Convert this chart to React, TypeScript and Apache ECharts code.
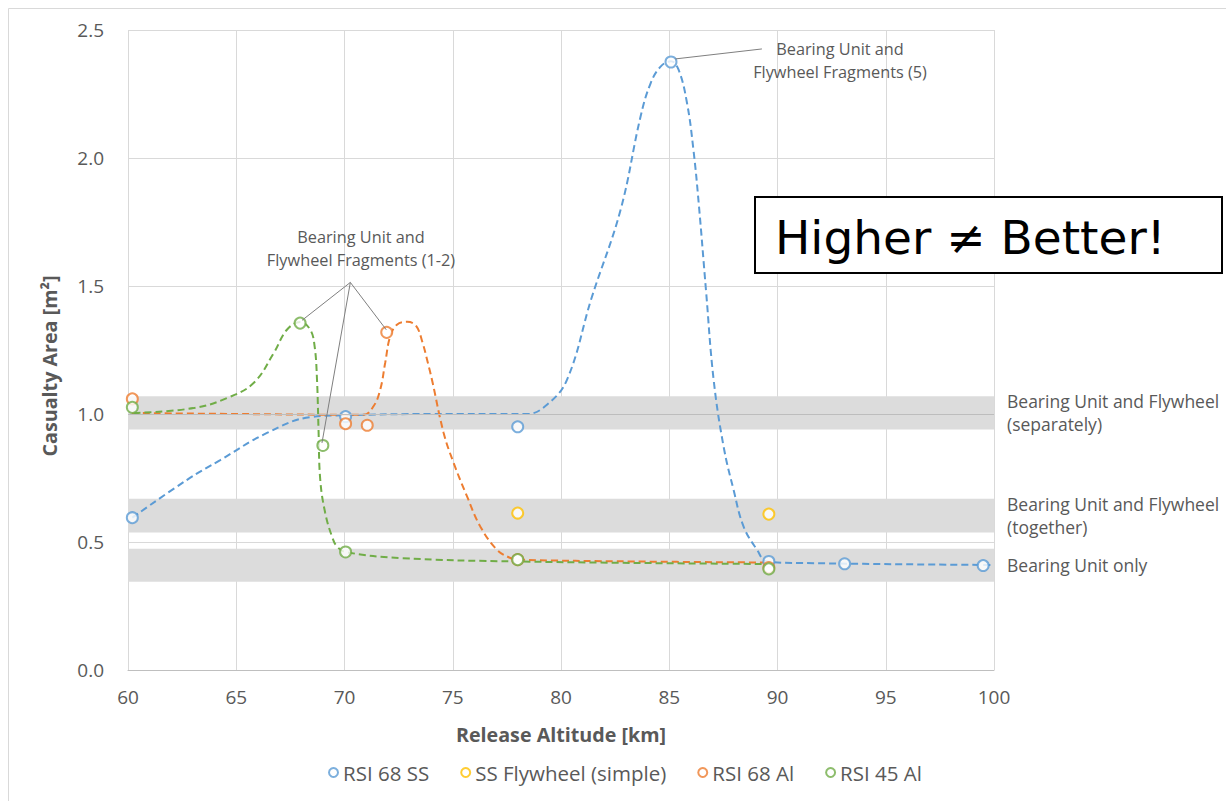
import React, { useEffect, useRef } from "react";
import * as echarts from "echarts";

// ---------- data ----------
const xTicks = [60, 65, 70, 75, 80, 85, 90, 95, 100];
const yTicks = [0, 0.5, 1.0, 1.5, 2.0, 2.5];

const seriesNames = ["RSI 68 SS", "SS Flywheel (simple)", "RSI 68 Al", "RSI 45 Al"];
const seriesColors = ["#5B9BD5", "#FFC000", "#ED7D31", "#70AD47"];

// markers: release altitude [km] / casualty area [m²]
const rsi68ssAlt = [60.2, 70.05, 78.0, 85.08, 89.6, 93.1, 99.5];
const rsi68ssArea = [0.595, 0.99, 0.95, 2.375, 0.424, 0.415, 0.408];
const ssFlyAlt = [78.0, 89.6];
const ssFlyArea = [0.613, 0.609];
const rsi68alAlt = [60.2, 70.05, 71.05, 71.95, 78.0, 89.6];
const rsi68alArea = [1.059, 0.962, 0.956, 1.319, 0.431, 0.4];
const rsi45alAlt = [60.2, 67.95, 69.0, 70.05, 78.0, 89.6];
const rsi45alArea = [1.026, 1.355, 0.877, 0.461, 0.431, 0.395];

// dashed trend curves
const rsi68ssCurve = [
  [60.2, 0.595], [62.73, 0.743], [64.26, 0.82], [66.42, 0.926], [68.42, 0.988],
  [70.05, 0.995], [74.0, 1.0], [78.43, 1.0], [79.35, 1.036], [80.28, 1.134],
  [81.4, 1.45], [82.75, 1.797], [83.67, 2.16], [84.13, 2.29], [84.6, 2.357],
  [85.08, 2.378], [85.43, 2.345], [85.82, 2.215], [86.12, 2.03], [86.36, 1.824],
  [86.7, 1.48], [87.05, 1.134], [87.51, 0.873], [87.97, 0.704], [88.43, 0.561],
  [89.05, 0.47], [89.51, 0.424], [91.05, 0.418], [100.0, 0.41],
];
const rsi68alCurve = [
  [60.18, 1.004], [65.0, 1.0], [70.88, 0.997], [71.34, 1.03], [71.65, 1.095],
  [71.88, 1.2], [72.11, 1.303], [72.42, 1.349], [72.89, 1.36], [73.3, 1.345],
  [73.6, 1.28], [73.85, 1.2], [74.04, 1.134], [74.58, 0.926], [75.04, 0.809],
  [75.66, 0.678], [76.27, 0.561], [77.04, 0.47], [77.66, 0.4375], [78.0, 0.431],
  [83.35, 0.424], [89.51, 0.42],
];
const rsi45alCurve = [
  [60.26, 1.004], [63.03, 1.023], [64.57, 1.062], [65.8, 1.121], [66.73, 1.238],
  [67.34, 1.329], [67.96, 1.359], [68.42, 1.329], [68.62, 1.264], [68.73, 1.134],
  [68.8, 0.939], [68.88, 0.743], [69.11, 0.613], [69.42, 0.522], [69.65, 0.483],
  [70.04, 0.461], [72.58, 0.4375], [77.97, 0.424], [89.51, 0.414],
];

// horizontal reference bands [low, high, label]
const bandLow = [0.939, 0.5375, 0.345];
const bandHigh = [1.069, 0.669, 0.474];
const bandLabels = [
  "Bearing Unit and Flywheel\n(separately)",
  "Bearing Unit and Flywheel\n(together)",
  "Bearing Unit only",
];
const referenceLine = 1.0;

// annotation leader lines [[x1, y1], [x2, y2]]
const leaderLines = [
  [[70.27, 1.514], [68.04, 1.366]],
  [[70.27, 1.514], [71.93, 1.329]],
  [[70.27, 1.514], [68.96, 0.887]],
  [[85.28, 2.387], [89.28, 2.426]],
];
const annotationFragments12 = "Bearing Unit and\nFlywheel Fragments (1-2)";
const annotationFragments5 = "Bearing Unit and\nFlywheel Fragments (5)";
const calloutText = "Higher \u2260 Better!";
const xTitle = "Release Altitude [km]";
const yTitle = "Casualty Area [m\u00B2]";

// ---------- chart ----------
const FONT = "'Open Sans', 'Liberation Sans', sans-serif";
const GRAY = "#595959";

function zip(xs: number[], ys: number[]) {
  return xs.map((x, i) => [x, ys[i]]);
}

export default function App() {
  const ref = useRef<HTMLDivElement>(null);

  useEffect(() => {
    if (!ref.current) return;
    const chart = echarts.init(ref.current, null, { renderer: "svg" });

    const markerSets = [
      zip(rsi68ssAlt, rsi68ssArea),
      zip(ssFlyAlt, ssFlyArea),
      zip(rsi68alAlt, rsi68alArea),
      zip(rsi45alAlt, rsi45alArea),
    ];
    const curves = [
      { data: rsi68ssCurve, color: seriesColors[0] },
      { data: rsi68alCurve, color: seriesColors[2] },
      { data: rsi45alCurve, color: seriesColors[3] },
    ];

    const option: any = {
      animation: false,
      backgroundColor: "#ffffff",
      grid: { left: 128, top: 30, width: 866, height: 640, containLabel: false },
      xAxis: {
        type: "value",
        min: xTicks[0],
        max: xTicks[xTicks.length - 1],
        interval: 5,
        axisLine: { show: true, lineStyle: { color: "#BFBFBF", width: 1 } },
        axisTick: { show: false },
        axisLabel: { color: GRAY, fontSize: 19, fontFamily: FONT, margin: 17 },
        splitLine: { show: true, lineStyle: { color: "#D9D9D9", width: 1 } },
      },
      yAxis: {
        type: "value",
        min: yTicks[0],
        max: yTicks[yTicks.length - 1],
        interval: 0.5,
        axisLine: { show: false },
        axisTick: { show: false },
        axisLabel: {
          color: GRAY,
          fontSize: 19,
          fontFamily: FONT,
          margin: 24,
          formatter: (v: number) => v.toFixed(1),
        },
        splitLine: { show: true, lineStyle: { color: "#D9D9D9", width: 1 } },
      },
      legend: {
        left: 328,
        top: 762,
        padding: 0,
        itemWidth: 9,
        itemHeight: 9,
        itemGap: 31,
        selectedMode: false,
        textStyle: { color: GRAY, fontSize: 20.5, fontFamily: FONT },
        data: seriesNames.map((n, i) => ({
          name: n,
          icon: "circle",
          itemStyle: { color: "#fff", borderColor: seriesColors[i], borderWidth: 2 },
        })),
      },
      series: [
        {
          name: "bands",
          type: "line",
          data: [],
          silent: true,
          z: 1,
          markArea: {
            silent: true,
            itemStyle: { color: "#DCDCDC" },
            label: {
              show: true,
              position: "right",
              distance: 13,
              color: GRAY,
              fontSize: 17.5,
              fontFamily: FONT,
              lineHeight: 23,
              align: "left",
            },
            data: bandLow.map((lo, i) => [
              { yAxis: lo, name: bandLabels[i] },
              { yAxis: bandHigh[i] },
            ]),
          },
          markLine: {
            silent: true,
            symbol: ["none", "none"],
            label: { show: false },
            lineStyle: { color: "#BDBDBD", type: "solid", width: 1 },
            data: [{ yAxis: referenceLine }],
          },
        },
        ...curves.map((c, i) => ({
          name: "fit" + i,
          type: "line",
          data: c.data,
          smooth: 0.4,
          showSymbol: false,
          symbol: "none",
          silent: true,
          z: 2,
          lineStyle: { color: c.color, width: 2, type: [7, 4] },
        })),
        {
          name: "leaders",
          type: "line",
          data: [],
          silent: true,
          z: 3,
          markLine: {
            silent: true,
            symbol: ["none", "none"],
            label: { show: false },
            lineStyle: { color: "#7F7F7F", type: "solid", width: 1 },
            data: leaderLines.map((seg) => [
              { coord: seg[0] },
              { coord: seg[1] },
            ]),
          },
        },
        ...markerSets.map((d, i) => ({
          name: seriesNames[i],
          type: "scatter",
          data: d,
          symbol: "emptyCircle",
          symbolSize: 11,
          z: 4,
          itemStyle: { color: seriesColors[i], borderColor: seriesColors[i], borderWidth: 2.6 },
        })),
      ],
      graphic: [
        {
          type: "rect",
          silent: true,
          shape: { x: 8.5, y: 8.5, width: 1400, height: 1000 },
          style: { fill: "none", stroke: "#D9D9D9", lineWidth: 1 },
          z: -10,
        },
        {
          type: "rect",
          shape: { x: 755, y: 197, width: 467, height: 76 },
          style: { fill: "#ffffff", stroke: "#000000", lineWidth: 2 },
          z: 10,
        },
        {
          type: "text",
          x: 775,
          y: 237,
          z: 11,
          style: {
            text: calloutText,
            fill: "#000000",
            fontSize: 47,
            fontFamily: "'DejaVu Sans', Verdana, sans-serif",
            textAlign: "left",
            textVerticalAlign: "middle",
          },
        },
        {
          type: "text",
          x: 361,
          y: 248,
          z: 11,
          style: {
            text: annotationFragments12,
            fill: GRAY,
            fontSize: 16.3,
            lineHeight: 23,
            fontFamily: FONT,
            textAlign: "center",
            textVerticalAlign: "middle",
          },
        },
        {
          type: "text",
          x: 840,
          y: 60,
          z: 11,
          style: {
            text: annotationFragments5,
            fill: GRAY,
            fontSize: 16.3,
            lineHeight: 23,
            fontFamily: FONT,
            textAlign: "center",
            textVerticalAlign: "middle",
          },
        },
        {
          type: "text",
          x: 561,
          y: 734,
          z: 11,
          style: {
            text: xTitle,
            fill: GRAY,
            fontSize: 19.7,
            fontWeight: "bold",
            fontFamily: FONT,
            textAlign: "center",
            textVerticalAlign: "middle",
          },
        },
        {
          type: "text",
          x: 49,
          y: 366,
          rotation: Math.PI / 2,
          z: 11,
          style: {
            text: yTitle,
            fill: GRAY,
            fontSize: 19.7,
            fontWeight: "bold",
            fontFamily: FONT,
            textAlign: "center",
            textVerticalAlign: "middle",
          },
        },
      ],
    };

    chart.setOption(option);
    return () => chart.dispose();
  }, []);

  return (
    <div
      ref={ref}
      style={{ position: "fixed", left: 0, top: 0, width: 1226, height: 801, background: "#fff" }}
    />
  );
}
